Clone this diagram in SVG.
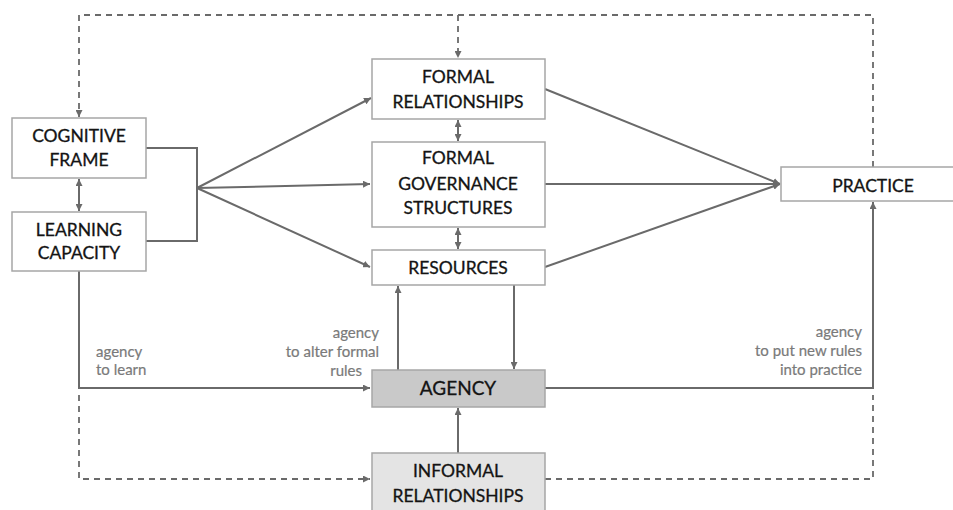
<svg xmlns="http://www.w3.org/2000/svg" width="953" height="510" viewBox="0 0 953 510">
  <style>
    .box { fill: #ffffff; stroke: #a6a6a6; stroke-width: 1.5; }
    .box.agency { fill: #c9c9c9; }
    .box.informal { fill: #e4e4e4; }
    .node-text { font-family: Lato, "Liberation Sans", sans-serif; font-size: 17.5px; fill: #141414; stroke: #141414; stroke-width: 0.3; text-anchor: middle; }
    .node-text.big { font-size: 19px; }
    .label { font-family: Lato, "Liberation Sans", sans-serif; font-size: 15px; fill: #7a7a7a; stroke: #7a7a7a; stroke-width: 0.2; }
    .conn { fill: none; stroke: #6a6a6a; stroke-width: 2; }
    .dash { fill: none; stroke: #6a6a6a; stroke-width: 1.8; stroke-dasharray: 6 5; }
  </style>
  <defs>
    <marker id="arrow" viewBox="0 0 8 8" refX="8" refY="4" markerWidth="7" markerHeight="7" markerUnits="userSpaceOnUse" orient="auto-start-reverse">
      <path d="M0,0 L8,4 L0,8 z" fill="#6a6a6a"/>
    </marker>
  </defs>

  <!-- connectors -->
  <g id="connectors">
    <!-- dashed feedback loops -->
    <path class="dash" d="M873,167 V15 H79 V117" marker-end="url(#arrow)"/>
    <path class="dash" d="M458,15 V58" marker-end="url(#arrow)"/>
    <path class="dash" d="M79,395 V479 H370" marker-end="url(#arrow)"/>
    <path class="dash" d="M545,479 H873 V395"/>

    <!-- cognitive frame / learning capacity -->
    <path class="conn" d="M79,179 V211" marker-start="url(#arrow)" marker-end="url(#arrow)"/>
    <path class="conn" d="M146,148 H197 V241 H146"/>
    <path class="conn" d="M197,188 L371,98" marker-end="url(#arrow)"/>
    <path class="conn" d="M197,188 L370,184" marker-end="url(#arrow)"/>
    <path class="conn" d="M197,188 L370,267" marker-end="url(#arrow)"/>

    <!-- formal layers -->
    <path class="conn" d="M458,120 V141" marker-start="url(#arrow)" marker-end="url(#arrow)"/>
    <path class="conn" d="M458,228 V249" marker-start="url(#arrow)" marker-end="url(#arrow)"/>

    <!-- into practice -->
    <path class="conn" d="M545,89 L780,184" marker-end="url(#arrow)"/>
    <path class="conn" d="M545,184 L780,184" marker-end="url(#arrow)"/>
    <path class="conn" d="M545,267 L780,184" marker-end="url(#arrow)"/>

    <!-- agency links -->
    <path class="conn" d="M79,271 V388 H370" marker-end="url(#arrow)"/>
    <path class="conn" d="M545,388 H873 V202" marker-end="url(#arrow)"/>
    <path class="conn" d="M398,370 V286" marker-end="url(#arrow)"/>
    <path class="conn" d="M514,285 V369" marker-end="url(#arrow)"/>
    <path class="conn" d="M458,453 V408" marker-end="url(#arrow)"/>
  </g>

  <!-- connector labels -->
  <text class="label" x="96" y="357">agency</text>
  <text class="label" x="96" y="375">to learn</text>
  <text class="label" x="379" y="338" text-anchor="end">agency</text>
  <text class="label" x="379" y="357" text-anchor="end">to alter formal</text>
  <text class="label" x="362" y="376" text-anchor="end">rules</text>
  <text class="label" x="862" y="337" text-anchor="end">agency</text>
  <text class="label" x="862" y="356" text-anchor="end">to put new rules</text>
  <text class="label" x="862" y="375" text-anchor="end">into practice</text>

  <!-- nodes -->
  <g id="cognitive-frame">
    <rect class="box" x="12" y="118" width="134" height="60"/>
    <text class="node-text" x="79" y="142">COGNITIVE</text>
    <text class="node-text" x="79" y="166">FRAME</text>
  </g>
  <g id="learning-capacity">
    <rect class="box" x="12" y="212" width="134" height="59"/>
    <text class="node-text" x="79" y="236">LEARNING</text>
    <text class="node-text" x="79" y="259">CAPACITY</text>
  </g>
  <g id="formal-relationships">
    <rect class="box" x="372" y="59" width="173" height="60"/>
    <text class="node-text" x="458" y="83">FORMAL</text>
    <text class="node-text" x="458" y="108">RELATIONSHIPS</text>
  </g>
  <g id="formal-governance-structures">
    <rect class="box" x="372" y="142" width="173" height="85"/>
    <text class="node-text" x="458" y="164">FORMAL</text>
    <text class="node-text" x="458" y="190">GOVERNANCE</text>
    <text class="node-text" x="458" y="214">STRUCTURES</text>
  </g>
  <g id="resources">
    <rect class="box" x="372" y="250" width="173" height="35"/>
    <text class="node-text" x="458" y="274">RESOURCES</text>
  </g>
  <g id="practice">
    <rect class="box" x="781" y="167" width="184" height="34"/>
    <text class="node-text" x="873" y="192">PRACTICE</text>
  </g>
  <g id="agency">
    <rect class="box agency" x="372" y="370" width="173" height="37"/>
    <text class="node-text big" x="458" y="395">AGENCY</text>
  </g>
  <g id="informal-relationships">
    <rect class="box informal" x="372" y="453" width="173" height="70"/>
    <text class="node-text" x="458" y="477">INFORMAL</text>
    <text class="node-text" x="458" y="502">RELATIONSHIPS</text>
  </g>
</svg>
